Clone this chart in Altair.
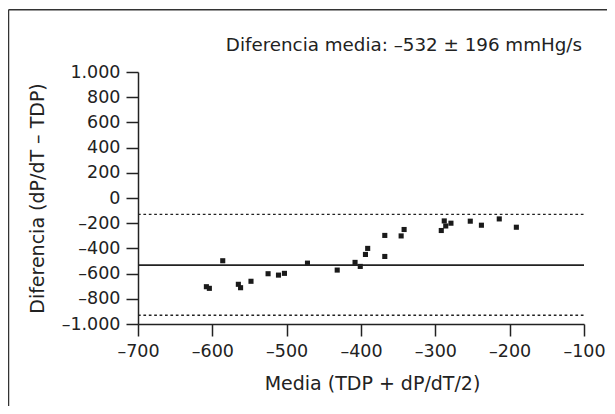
import altair as alt
import pandas as pd

# Bland-Altman data
media = [-608, -604, -586, -565, -562, -548, -525, -511, -503, -472,
         -432, -408, -401, -394, -391, -368, -368, -346, -342, -292,
         -288, -286, -279, -253, -238, -214, -191]
diferencia = [-704, -717, -498, -685, -712, -661, -601, -612, -598, -517,
              -572, -511, -543, -448, -400, -297, -464, -301, -250, -258,
              -182, -222, -200, -184, -216, -166, -232]

mean_diff = -532
upper_limit = -130
lower_limit = -930
x_ticks = [-700, -600, -500, -400, -300, -200, -100]
y_ticks = [-1000, -800, -600, -400, -200, 0, 200, 400, 600, 800, 1000]
annotation = "Diferencia media: \u2013532 \u00b1 196 mmHg/s"
x_title = "Media (TDP + dP/dT/2)"
y_title = "Diferencia (dP/dT \u2013 TDP)"

FONT = "DejaVu Sans"
INK = "#222222"
label_expr = "(datum.value < 0 ? '\u2013' : '') + replace(format(abs(datum.value), ','), ',', '.')"

pts = pd.DataFrame({"media": media, "dif": diferencia})
lines = pd.DataFrame({
    "y": [mean_diff, upper_limit, lower_limit],
    "kind": ["mean", "limit", "limit"],
    "x0": [-700, -700, -700],
    "x1": [-100, -100, -100],
})

xscale = alt.Scale(domain=[-700, -100], nice=False, zero=False)
yscale = alt.Scale(domain=[-1000, 1000], nice=False, zero=False)

xaxis = alt.Axis(values=x_ticks, labelExpr=label_expr, title=x_title,
                 titleX=234, titleY=59, titleBaseline="middle", titleAlign="center",
                 tickSize=12, labelPadding=6, labelFlush=False, labelOverlap=False)
yaxis = alt.Axis(values=y_ticks, labelExpr=label_expr, title=y_title,
                 titleX=-101, titleY=126, titleBaseline="middle", titleAlign="center",
                 titleAngle=270,
                 tickSize=12, labelPadding=6, labelFlush=False, labelOverlap=False)

points = alt.Chart(pts).mark_point(shape="square", filled=True, size=26,
                                   color="#1a1a1a", opacity=1).encode(
    x=alt.X("media:Q", scale=xscale, axis=xaxis, title=x_title),
    y=alt.Y("dif:Q", scale=yscale, axis=yaxis, title=y_title),
)

mean_rule = alt.Chart(lines).transform_filter(alt.datum.kind == "mean").mark_rule(
    color=INK, strokeWidth=1.8).encode(
    x=alt.X("x0:Q", scale=xscale, axis=xaxis, title=x_title), x2="x1:Q",
    y=alt.Y("y:Q", scale=yscale, axis=yaxis, title=y_title))

limit_rule = alt.Chart(lines).transform_filter(alt.datum.kind == "limit").mark_rule(
    color=INK, strokeWidth=1.4, strokeDash=[2.7, 2.7]).encode(
    x=alt.X("x0:Q", scale=xscale, axis=xaxis, title=x_title), x2="x1:Q",
    y=alt.Y("y:Q", scale=yscale, axis=yaxis, title=y_title))

one = pd.DataFrame({"t": [annotation]})
note = alt.Chart(one).mark_text(font=FONT, fontSize=18.3, color=INK, align="right",
                                baseline="alphabetic").encode(
    x=alt.value(444), y=alt.value(-21), text="t:N")

frame_top = alt.Chart(one).mark_rule(color="#333333", strokeWidth=1.5).encode(
    x=alt.value(-129.5), x2=alt.value(1000), y=alt.value(-62.3))
frame_left = alt.Chart(one).mark_rule(color="#333333", strokeWidth=1.5).encode(
    x=alt.value(-129.5), y=alt.value(-62.3), y2=alt.value(1000))

chart = alt.layer(points, limit_rule, mean_rule, note, frame_top, frame_left).properties(
    width=446, height=252,
    autosize=alt.AutoSizeParams(type="none"),
    padding={"left": 130, "top": 64, "right": 23, "bottom": 82},
    background="white",
).configure_view(stroke=None).configure_axis(
    grid=False, domainColor=INK, tickColor=INK, domainWidth=1.5, tickWidth=1.5,
    labelFont=FONT, labelFontSize=17.5, labelColor=INK, labelOverlap=False,
    titleFont=FONT, titleFontSize=19, titleColor=INK, titleFontWeight="normal",
)

chart.save("out.html", embed_options={"renderer": "svg", "actions": False})
